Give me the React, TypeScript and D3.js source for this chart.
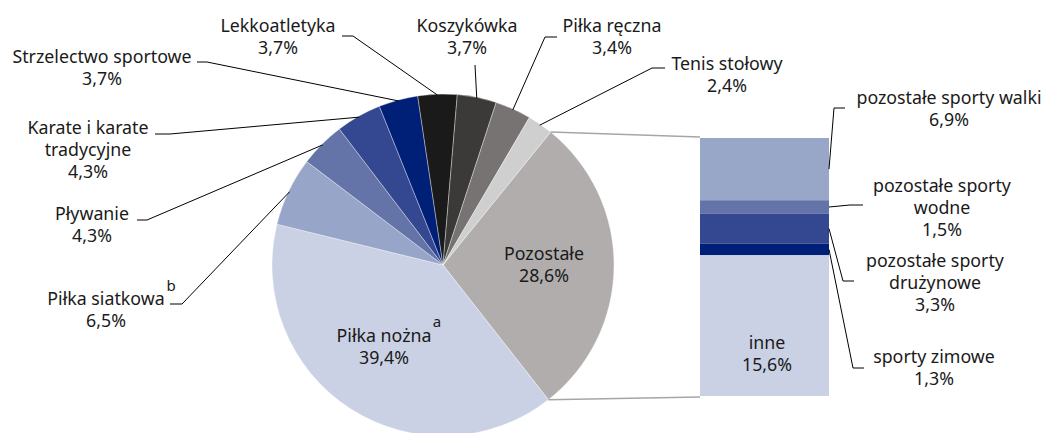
import React from "react";
import * as d3 from "d3";

const mainCategories = ["Pozostałe", "Piłka nożna", "Piłka siatkowa", "Pływanie", "Karate i karate tradycyjne", "Strzelectwo sportowe", "Lekkoatletyka", "Koszykówka", "Piłka ręczna", "Tenis stołowy"];
const mainValues = [28.6, 39.4, 6.5, 4.3, 4.3, 3.7, 3.7, 3.7, 3.4, 2.4];
const mainColors = ["#B0ADAC", "#CBD1E5", "#97A5C8", "#6574A8", "#334890", "#001F77", "#1A1A1A", "#3C3A39", "#777372", "#D0CFCF"];

const subCategories = ["pozostałe sporty walki", "pozostałe sporty wodne", "pozostałe sporty drużynowe", "sporty zimowe", "inne"];
const subValues = [6.9, 1.5, 3.3, 1.3, 15.6];
const subColors = ["#98A6C8", "#6574A8", "#334890", "#001F77", "#CBD1E5"];

const fmt = (v: number) => v.toFixed(1).replace(".", ",") + "%";

// label layout (positions only)
type Lay = { lines: string[]; x: number; y: number; knee?: [number, number]; end?: number };
const mainLayout: Record<string, Lay> = {
  "Pozostałe": { lines: ["Pozostałe"], x: 544, y: 260 },
  "Piłka nożna": { lines: ["Piłka nożna"], x: 384, y: 342 },
  "Piłka siatkowa": { lines: ["Piłka siatkowa"], x: 106, y: 305, knee: [182, 304], end: 170 },
  "Pływanie": { lines: ["Pływanie"], x: 92, y: 220, knee: [147, 220], end: 137 },
  "Karate i karate tradycyjne": { lines: ["Karate i karate", "tradycyjne"], x: 88, y: 134, knee: [170, 134], end: 155 },
  "Strzelectwo sportowe": { lines: ["Strzelectwo sportowe"], x: 102, y: 63, knee: [207, 62], end: 197 },
  "Lekkoatletyka": { lines: ["Lekkoatletyka"], x: 278, y: 32, knee: [353, 36], end: 342 },
  "Koszykówka": { lines: ["Koszykówka"], x: 467, y: 32, knee: [475, 65], end: 475 },
  "Piłka ręczna": { lines: ["Piłka ręczna"], x: 612, y: 32, knee: [545, 37], end: 557 },
  "Tenis stołowy": { lines: ["Tenis stołowy"], x: 727, y: 70, knee: [652, 68], end: 665 },
};
const subLayout: Record<string, Lay> = {
  "pozostałe sporty walki": { lines: ["pozostałe sporty walki"], x: 949, y: 104, knee: [834, 108], end: 845 },
  "pozostałe sporty wodne": { lines: ["pozostałe sporty", "wodne"], x: 942, y: 192, knee: [850, 205], end: 863 },
  "pozostałe sporty drużynowe": { lines: ["pozostałe sporty", "drużynowe"], x: 935, y: 267, knee: [843, 281], end: 854 },
  "sporty zimowe": { lines: ["sporty zimowe"], x: 934, y: 363, knee: [853, 368], end: 864 },
  "inne": { lines: ["inne"], x: 767, y: 349 },
};

const W = 1046, H = 433;
const cx = 443, cy = 265, R = 171;
const barX0 = 700, barX1 = 829;
const LH = 21.8;
const FONT = "'Noto Sans', sans-serif";
const FS = 17.8;

function Label({ lay, value }: { lay: Lay; value: number }) {
  const lines = [...lay.lines, fmt(value)];
  return (
    <text x={lay.x} y={lay.y} textAnchor="middle" fontFamily={FONT} fontSize={FS} fill="#1a1a1a">
      {lines.map((l, i) => (
        <tspan key={i} x={lay.x} y={lay.y + i * LH}>{l}</tspan>
      ))}
    </text>
  );
}

export default function App() {
  const pie = d3.pie<number>().sort(null).value((d) => d)
    .startAngle((39 * Math.PI) / 180).endAngle((39 * Math.PI) / 180 + 2 * Math.PI);
  const arcs = pie(mainValues);
  const arcGen = d3.arc<d3.PieArcDatum<number>>().innerRadius(0).outerRadius(R);
  const pt = (a: number, r: number): [number, number] => [cx + r * Math.sin(a), cy - r * Math.cos(a)];

  const total = d3.sum(subValues);
  const y = d3.scaleLinear().domain([0, total]).range([138, 396]);
  const cum = d3.cumsum(subValues);
  const segs = subValues.map((v, i) => ({ v, y0: y(cum[i] - v), y1: y(cum[i]) }));

  const oth = arcs[0];
  const pA = pt(oth.startAngle, R);
  const pB = pt(oth.endAngle, R);

  return (
    <svg width={W} height={H} style={{ position: "absolute", left: 0, top: 0 }}>
      <rect width={W} height={H} fill="#fff" />
      {arcs.map((a, i) => (
        <path key={i} d={arcGen(a) || ""} transform={`translate(${cx},${cy})`} fill={mainColors[i]} stroke="#ffffff" strokeOpacity={0.6} strokeWidth={0.6} />
      ))}
      {/* connectors to bar */}
      <line x1={pA[0]} y1={pA[1]} x2={barX0} y2={y(0) - 1} stroke="#A6A6A6" strokeWidth={1.5} />
      <line x1={pB[0]} y1={pB[1]} x2={barX0} y2={y(total) + 1} stroke="#A6A6A6" strokeWidth={1.5} />
      {segs.map((s, i) => (
        <rect key={i} x={barX0} y={s.y0} width={barX1 - barX0} height={s.y1 - s.y0} fill={subColors[i]} />
      ))}
      {/* main leader lines */}
      {arcs.map((a, i) => {
        const lay = mainLayout[mainCategories[i]];
        if (!lay.knee) return null;
        const p = pt((a.startAngle + a.endAngle) / 2, R - 1);
        return (
          <polyline key={i} points={`${p[0]},${p[1]} ${lay.knee[0]},${lay.knee[1]} ${lay.end},${lay.knee[1]}`} fill="none" stroke="#000" strokeWidth={1} />
        );
      })}
      {/* sub leader lines */}
      {segs.map((s, i) => {
        const lay = subLayout[subCategories[i]];
        if (!lay.knee) return null;
        const p: [number, number] = [barX1, (s.y0 + s.y1) / 2];
        return (
          <polyline key={i} points={`${p[0]},${p[1]} ${lay.knee[0]},${lay.knee[1]} ${lay.end},${lay.knee[1]}`} fill="none" stroke="#000" strokeWidth={1} />
        );
      })}
      {mainCategories.map((c, i) => (
        <Label key={c} lay={mainLayout[c]} value={mainValues[i]} />
      ))}
      {subCategories.map((c, i) => (
        <Label key={c} lay={subLayout[c]} value={subValues[i]} />
      ))}
      {/* superscripts */}
      <text x={437} y={327} textAnchor="middle" fontFamily={FONT} fontSize={15} fill="#1a1a1a">a</text>
      <text x={171} y={291} textAnchor="middle" fontFamily={FONT} fontSize={15} fill="#1a1a1a">b</text>
    </svg>
  );
}
